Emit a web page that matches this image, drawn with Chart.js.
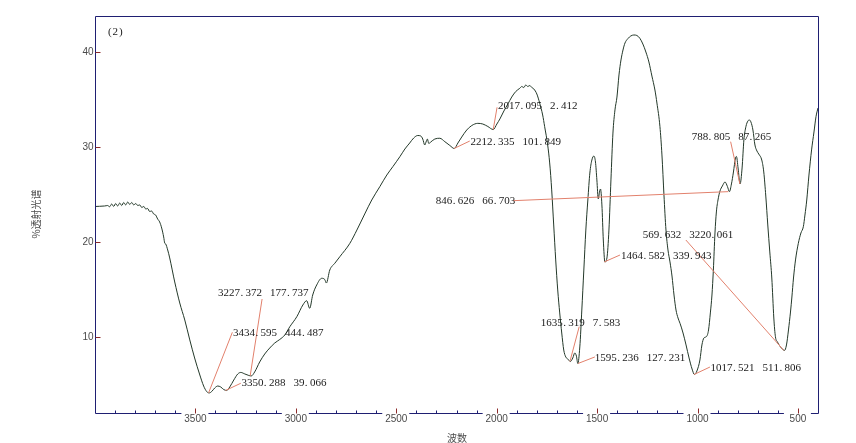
<!DOCTYPE html>
<html>
<head>
<meta charset="utf-8">
<script src="https://cdn.jsdelivr.net/npm/chart.js@4.4.0/dist/chart.umd.min.js"></script>
<style>
  body { margin: 0; background: #fff; }
  #spectrumChart { display: block; }
</style>
</head>
<body>
<canvas id="spectrumChart" width="856" height="443"></canvas>
<script>
// IR spectrum (wavenumber cm-1 / %T)
const waveNumbers = [
  4000, 3977, 3952, 3937, 3927, 3917, 3907, 3897, 3887, 3877, 3867, 3857, 3847, 3837, 3827,
  3817, 3807, 3797, 3787, 3777, 3767, 3757, 3747, 3738, 3728, 3718, 3708, 3698, 3688, 3678,
  3668, 3658, 3653, 3648, 3638, 3628, 3603, 3578, 3553, 3528, 3504, 3478, 3459, 3444, 3431,
  3419, 3404, 3389, 3374, 3359, 3344, 3329, 3309, 3289, 3274, 3254, 3234, 3222, 3205, 3180,
  3155, 3130, 3105, 3080, 3055, 3030, 2995, 2965, 2946, 2931, 2916, 2896, 2871, 2856, 2848,
  2831, 2806, 2781, 2731, 2696, 2657, 2622, 2582, 2547, 2517, 2482, 2457, 2433, 2413, 2393,
  2378, 2368, 2358, 2350, 2345, 2338, 2328, 2308, 2283, 2258, 2233, 2211, 2193, 2174, 2149,
  2124, 2094, 2069, 2044, 2017, 1999, 1984, 1964, 1944, 1925, 1905, 1885, 1875, 1865, 1855,
  1845, 1835, 1825, 1815, 1800, 1786, 1771, 1761, 1746, 1736, 1726, 1716, 1706, 1696, 1686,
  1676, 1666, 1656, 1646, 1633, 1621, 1611, 1603, 1596, 1586, 1576, 1566, 1556, 1546, 1536,
  1526, 1516, 1508, 1501, 1494, 1488, 1483, 1476, 1469, 1461, 1451, 1441, 1431, 1421, 1411,
  1401, 1391, 1381, 1371, 1361, 1346, 1332, 1317, 1302, 1287, 1272, 1257, 1242, 1227, 1212,
  1202, 1187, 1177, 1167, 1157, 1147, 1137, 1127, 1117, 1107, 1097, 1087, 1072, 1057, 1042,
  1027, 1015, 1003, 988, 978, 968, 955, 945, 936, 928, 921, 913, 906, 898, 888,
  876, 863, 851, 841, 831, 821, 811, 806, 798, 788, 778, 769, 759, 749, 741,
  734, 724, 714, 704, 695, 680, 670, 660, 650, 640, 630, 620, 612, 602, 590,
  580, 567, 557, 547, 537, 530, 522, 512, 498, 485, 473, 465, 456, 445, 432,
  420, 410, 400
];
const transmittance = [
  23.77, 23.79, 23.82, 23.87, 23.74, 24.03, 23.77, 24.08, 23.82, 24.13, 23.87, 24.19, 23.93, 24.24, 23.98,
  24.19, 23.93, 24.08, 23.87, 23.93, 23.66, 23.77, 23.50, 23.56, 23.24, 23.29, 22.98, 22.87, 22.45, 22.14,
  21.50, 20.56, 19.93, 19.82, 19.19, 18.35, 15.82, 13.61, 11.82, 9.72, 7.82, 6.03, 4.87, 4.29, 4.14,
  4.29, 4.66, 4.87, 4.77, 4.50, 4.40, 4.77, 5.50, 6.14, 6.30, 6.14, 5.98, 5.93, 6.35, 7.40,
  8.24, 8.87, 9.40, 9.77, 10.24, 11.11, 12.17, 13.40, 13.85, 13.05, 14.45, 15.51, 16.21, 16.08, 15.71,
  17.08, 17.79, 18.48, 19.89, 21.29, 22.98, 24.45, 25.85, 27.08, 27.96, 29.01, 29.82, 30.45, 30.98, 31.24,
  31.19, 30.87, 30.24, 30.66, 30.87, 30.40, 30.56, 30.87, 30.95, 30.59, 30.19, 29.87, 30.45, 31.08, 31.82,
  32.29, 32.52, 32.45, 32.19, 31.87, 32.45, 32.98, 33.82, 34.56, 35.29, 35.87, 36.21, 36.40, 36.29, 36.56,
  36.40, 36.50, 36.29, 36.14, 35.61, 34.66, 33.40, 32.17, 30.24, 28.35, 25.51, 21.82, 18.14, 14.98, 12.56,
  10.45, 8.66, 7.93, 7.72, 7.45, 7.82, 8.35, 8.03, 7.24, 8.98, 12.87, 17.08, 21.29, 24.45, 27.29,
  28.66, 29.08, 28.45, 26.56, 24.56, 25.29, 25.61, 23.93, 20.24, 17.93, 18.35, 21.29, 26.56, 31.50, 33.93,
  35.29, 37.61, 39.19, 40.24, 40.98, 41.45, 41.72, 41.82, 41.77, 41.47, 40.87, 40.03, 38.98, 37.50, 36.03,
  34.66, 32.17, 29.19, 24.98, 21.29, 19.19, 17.93, 16.45, 14.45, 12.87, 12.03, 11.47, 10.45, 9.19, 7.82,
  6.66, 6.08, 6.45, 7.61, 9.19, 9.93, 10.08, 10.77, 12.56, 14.45, 17.08, 20.98, 23.19, 24.45, 25.40,
  25.93, 26.35, 25.87, 25.33, 26.14, 27.40, 28.87, 29.03, 27.82, 26.14, 27.82, 30.77, 32.17, 32.77, 32.87,
  32.66, 31.82, 30.24, 29.61, 29.29, 28.66, 27.40, 24.87, 21.82, 18.98, 16.24, 12.03, 10.06, 9.51, 9.08,
  8.82, 8.61, 9.19, 10.77, 12.66, 14.24, 16.24, 18.14, 19.89, 20.98, 21.64, 22.87, 24.45, 27.08, 29.72,
  31.61, 33.22, 34.14
];

const xTicks = [3500, 3000, 2500, 2000, 1500, 1000, 500];
const yTicks = [10, 20, 30, 40];

// marked peaks
const peakWaves = [3227.372, 3434.595, 3350.288, 2212.335, 2017.095, 846.626, 788.805, 569.632, 1464.582, 1635.319, 1595.236, 1017.521];
const peakValues = [5.93, 4.14, 4.40, 29.87, 31.87, 25.33, 26.14, 8.61, 17.93, 7.45, 7.24, 6.08];
const peakTextA = ["3227.372", "3434.595", "3350.288", "2212.335", "2017.095", "846.626", "788.805", "569.632", "1464.582", "1635.319", "1595.236", "1017.521"];
const peakTextB = ["177.737", "444.487", "39.066", "101.849", "2.412", "66.703", "87.265", "3220.061", "339.943", "7.583", "127.231", "511.806"];

// where the labels and leader ends sit (data units)
const labelAt = [
  [3387, 14.63], [3313, 10.48], [3271, 5.16], [2130, 30.59], [1993, 34.38], [2303, 24.38],
  [1029, 31.12], [1273, 20.77], [1381, 18.55], [1780, 11.54], [1511, 7.85], [935, 6.80]
];
const leaderTo = [
  [3168, 14.03], [3316, 10.53], [3274, 5.16], [2134, 30.66], [1998, 34.21], [1918, 24.38],
  [835, 30.59], [1058, 20.24], [1386, 18.66], [1589, 11.12], [1511, 7.93], [938, 6.87]
];

const navy = "#1f1f72";
const tickRed = "#8c2a2a";

const spectrumFrame = {
  id: "spectrumFrame",
  afterDatasetsDraw(chart) {
    const { ctx, chartArea: a, scales: { x, y } } = chart;
    ctx.save();

    // leader lines
    ctx.strokeStyle = "#e2806c";
    ctx.lineWidth = 1;
    peakWaves.forEach((w, i) => {
      ctx.beginPath();
      ctx.moveTo(x.getPixelForValue(w), y.getPixelForValue(peakValues[i]));
      ctx.lineTo(x.getPixelForValue(leaderTo[i][0]), y.getPixelForValue(leaderTo[i][1]));
      ctx.stroke();
    });

    // peak labels, monospaced cells like the original
    const cell = 5.5;
    ctx.fillStyle = "#1a1a1a";
    ctx.font = "11px 'Liberation Serif'";
    ctx.textBaseline = "middle";
    ctx.textAlign = "center";
    function drawMono(str, px, py) {
      for (let k = 0; k < str.length; k++) {
        const cx = str[k] === "." ? px + cell * k + 1.8 : px + cell * k + cell / 2;
        ctx.fillText(str[k], cx, py);
      }
      return px + str.length * cell;
    }
    peakTextA.forEach((t, i) => {
      const px = x.getPixelForValue(labelAt[i][0]);
      const py = y.getPixelForValue(labelAt[i][1]);
      const end = drawMono(t, px, py);
      drawMono(peakTextB[i], end + 8, py);
    });
    drawMono("(2)", a.left + 12, a.top + 16);

    // frame
    ctx.strokeStyle = navy;
    ctx.lineWidth = 1;
    const L = Math.round(a.left) + 0.5, R = Math.round(a.right) + 0.5;
    const T = Math.round(a.top) + 0.5, B = Math.round(a.bottom) + 0.5;
    ctx.beginPath();
    ctx.moveTo(L, B); ctx.lineTo(L, T); ctx.lineTo(R, T); ctx.lineTo(R, B);
    ctx.stroke();
    // bottom axis with gaps under the labels
    let segStart = L;
    ctx.beginPath();
    xTicks.forEach(t => {
      const px = x.getPixelForValue(t);
      ctx.moveTo(segStart, B); ctx.lineTo(px - 14, B);
      segStart = px + 13;
    });
    ctx.moveTo(segStart, B); ctx.lineTo(R, B);
    ctx.stroke();

    // minor ticks
    ctx.beginPath();
    for (let t = 3900; t > 400; t -= 100) {
      if (t % 500 === 0) continue;
      const px = Math.round(x.getPixelForValue(t)) + 0.5;
      ctx.moveTo(px, B); ctx.lineTo(px, B - 3);
    }
    ctx.stroke();

    // major ticks
    ctx.strokeStyle = tickRed;
    ctx.beginPath();
    xTicks.forEach(t => {
      const px = Math.round(x.getPixelForValue(t)) + 0.5;
      ctx.moveTo(px, B); ctx.lineTo(px, B - 5);
    });
    yTicks.forEach(t => {
      const py = Math.round(y.getPixelForValue(t)) + 0.5;
      ctx.moveTo(L, py); ctx.lineTo(L + 5, py);
    });
    ctx.stroke();

    // tick labels
    ctx.fillStyle = "#4a4a4a";
    ctx.font = "10px 'Liberation Sans'";
    ctx.textAlign = "center";
    ctx.textBaseline = "middle";
    xTicks.forEach(t => ctx.fillText(String(t), x.getPixelForValue(t), B + 6));
    ctx.textAlign = "right";
    yTicks.forEach(t => ctx.fillText(String(t), L - 2, y.getPixelForValue(t)));

    // axis titles
    ctx.font = "10px 'Noto Sans CJK SC'";
    ctx.textAlign = "center";
    ctx.fillText("波数", (a.left + a.right) / 2 + 0.5, 438);
    ctx.translate(36, 214);
    ctx.rotate(-Math.PI / 2);
    ctx.fillText("%透射光谱", 0, 0);

    ctx.restore();
  }
};

const points = waveNumbers.map((w, i) => ({ x: w, y: transmittance[i] }));

new Chart(document.getElementById("spectrumChart"), {
  type: "line",
  data: {
    datasets: [{
      data: points,
      borderColor: "#233829",
      borderWidth: 1,
      pointRadius: 0,
      cubicInterpolationMode: "monotone",
      fill: false
    }]
  },
  options: {
    responsive: false,
    animation: false,
    events: [],
    layout: { padding: { left: 95, right: 38, top: 16, bottom: 30 } },
    scales: {
      x: { type: "linear", reverse: true, min: 400, max: 4000, display: false },
      y: { type: "linear", min: 2.03, max: 43.82, display: false }
    },
    plugins: { legend: { display: false }, tooltip: { enabled: false } }
  },
  plugins: [spectrumFrame]
});
</script>
</body>
</html>
